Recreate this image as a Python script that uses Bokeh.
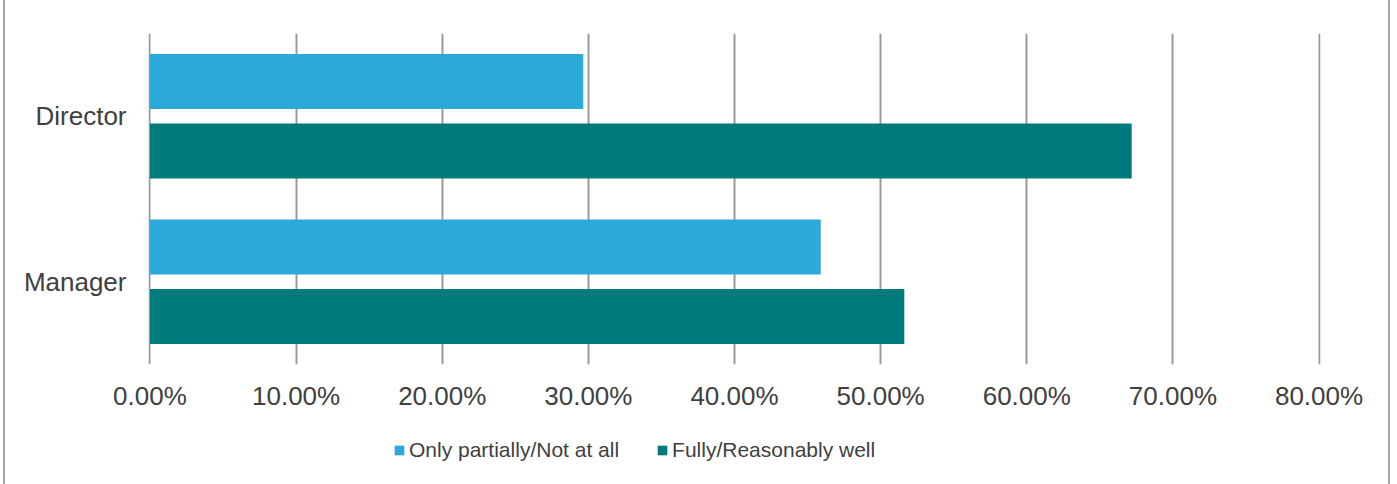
from bokeh.plotting import figure
from bokeh.layouts import column
from bokeh.models import Range1d, FactorRange, ColumnDataSource, NumeralTickFormatter, FixedTicker, Legend, LegendItem
from bokeh.transform import dodge
from bokeh.embed import file_html
from bokeh.resources import INLINE

categories = ["Manager", "Director"]
partial_vals = [0.459, 0.2965]
fully_vals = [0.5162, 0.6718]
x_ticks = [0.0, 0.1, 0.2, 0.3, 0.4, 0.5, 0.6, 0.7, 0.8]
series_names = ["Only partially/Not at all", "Fully/Reasonably well"]

LIGHT = "#2BA9D9"
TEAL = "#007A7A"
TXT = "#404040"
FONT = "Liberation Sans"
BORDER = {"margin-left": "3px", "border-left": "2px solid #a6a6a6", "border-right": "2px solid #a6a6a6"}

src = ColumnDataSource(dict(cat=categories, partial=partial_vals, fully=fully_vals))

p = figure(width=1387, height=420, y_range=FactorRange(*categories, range_padding=0),
           x_range=Range1d(-0.001, 0.801), output_backend="svg", toolbar_location=None,
           min_border_left=143, min_border_right=72, min_border_top=33, min_border_bottom=56)
p.styles = BORDER
p.outline_line_color = None

r1 = p.hbar(y=dodge("cat", 0.21, range=p.y_range), right="partial", height=0.332, left=0,
            source=src, fill_color=LIGHT, line_color=None)
r2 = p.hbar(y=dodge("cat", -0.21, range=p.y_range), right="fully", height=0.332, left=0,
            source=src, fill_color=TEAL, line_color=None)

p.xaxis.ticker = FixedTicker(ticks=x_ticks)
p.xaxis.formatter = NumeralTickFormatter(format="0.00%")
for ax in (p.xaxis[0], p.yaxis[0]):
    ax.axis_line_color = None
    ax.major_tick_line_color = None
    ax.minor_tick_line_color = None
    ax.major_label_text_font = FONT
    ax.major_label_text_font_size = "26px"
    ax.major_label_text_color = TXT
p.xaxis.major_label_standoff = 10
p.yaxis.major_label_standoff = 16

p.xgrid.grid_line_color = "#9a9a9a"
p.xgrid.grid_line_width = 2
p.ygrid.grid_line_color = None

# legend strip
lf = figure(width=1387, height=64, x_range=Range1d(0, 1), y_range=Range1d(0, 1),
            output_backend="svg", toolbar_location=None, x_axis_type=None, y_axis_type=None,
            min_border=0, min_border_left=0, min_border_right=0, min_border_top=0, min_border_bottom=0)
lf.styles = BORDER
lf.outline_line_color = None
lf.xgrid.grid_line_color = None
lf.ygrid.grid_line_color = None
offscreen = ColumnDataSource(dict(y=[-10], r=[-10]))
d1 = lf.hbar(y="y", right="r", left=-11, height=1, source=offscreen, fill_color=LIGHT, line_color=None)
d2 = lf.hbar(y="y", right="r", left=-11, height=1, source=offscreen, fill_color=TEAL, line_color=None)

legend = Legend(items=[LegendItem(label=series_names[0], renderers=[d1]),
                       LegendItem(label=series_names[1], renderers=[d2])],
                orientation="horizontal", location=(245, 22),
                label_text_font=FONT, label_text_font_size="21px",
                label_text_color=TXT, glyph_width=12, glyph_height=12, label_standoff=4,
                spacing=37, border_line_color=None, background_fill_alpha=0,
                padding=0, margin=0)
lf.add_layout(legend, "center")

layout = column(p, lf, spacing=0)
open("out.html", "w").write(file_html(layout, INLINE))
